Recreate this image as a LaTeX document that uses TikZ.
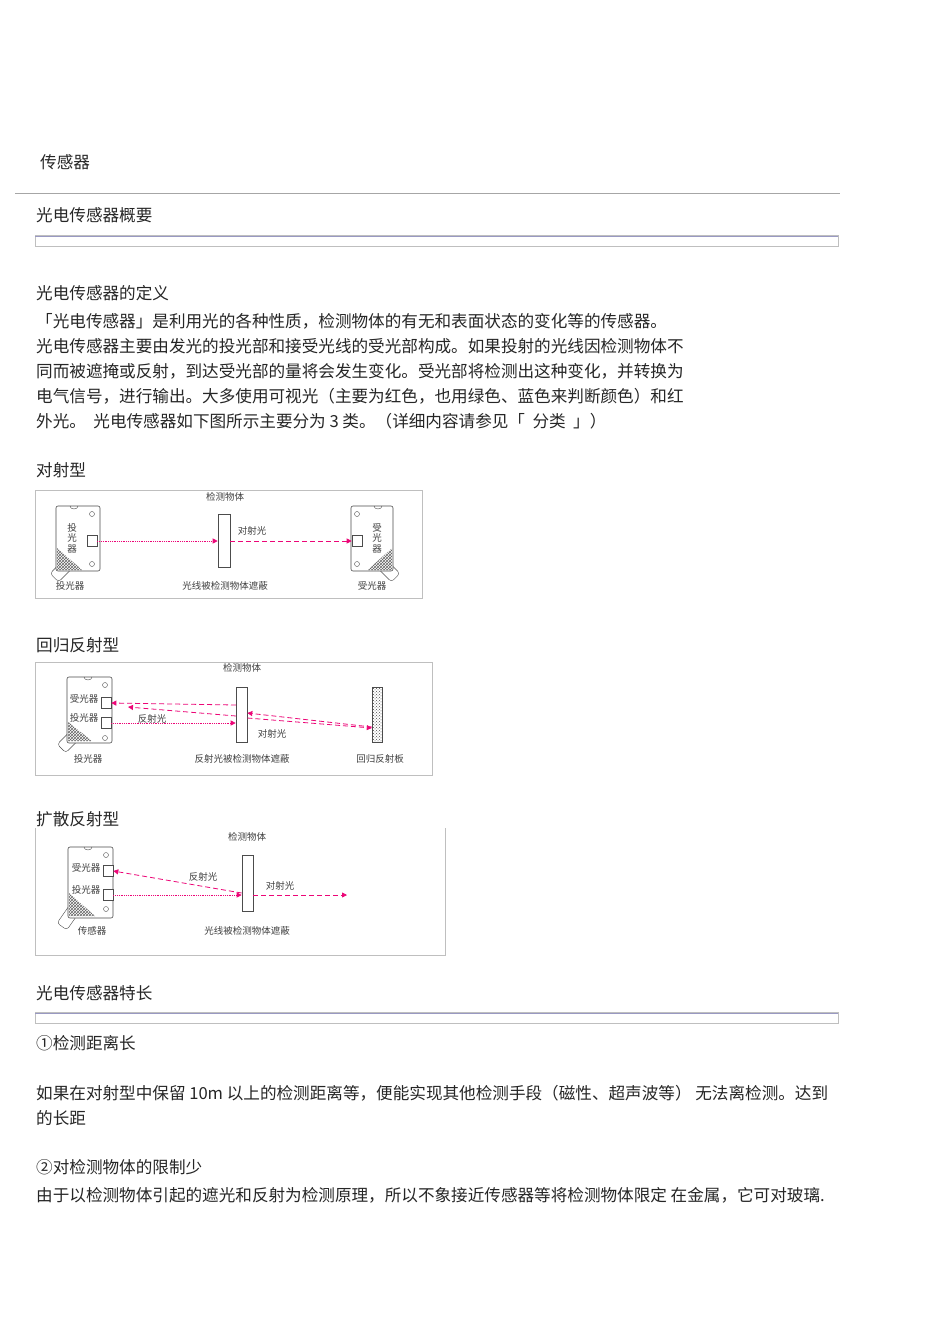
\documentclass[tikz,border=0pt]{standalone}
\usepackage{fontspec}
\setmainfont{Noto Sans CJK SC}
\usetikzlibrary{arrows.meta,patterns}
\begin{document}
\begin{tikzpicture}[x=1pt,y=-1pt,
  txt/.style={anchor=west,inner sep=0,font=\fontsize{16.6}{20}\selectfont,text=black!85},
  sm/.style={inner sep=0,font=\fontsize{9.5}{10.5}\selectfont,text=black!75},
  body/.style={draw=black!70,fill=white,rounded corners=2pt,line width=0.6pt},
  lens/.style={draw=black!70,fill=white,minimum width=10pt,minimum height=11pt,inner sep=0,line width=0.6pt},
  obj/.style={draw=black!70,fill=white,line width=0.6pt},
  frame/.style={draw=black!25,line width=0.8pt},
  beamdot/.style={draw=magenta!80!red,densely dotted,line width=0.8pt,-{Triangle[length=5pt,width=5pt]}},
  beamdash/.style={draw=magenta!80!red,dashed,dash pattern=on 5pt off 3pt,line width=0.8pt,-{Triangle[length=5pt,width=5pt]}}]
\useasboundingbox[fill=white] (0,0) rectangle (950,1344);

% header
\node[txt] (t0) at (40,162) {传感器};
\draw[black!35,line width=0.8pt] (15,193) -- (840,193);
\node[txt] (t1) at (36,215) {光电传感器概要};
\draw[black!25] (35,235) rectangle (838,246);
\draw[blue!40!black!40,line width=1pt] (35,236) -- (838,236);

\node[txt] (t2) at (36,293) {光电传感器的定义};
\node[txt] at (36,321) {「光电传感器」是利用光的各种性质，检测物体的有无和表面状态的变化等的传感器。};
\node[txt] at (36,346) {光电传感器主要由发光的投光部和接受光线的受光部构成。如果投射的光线因检测物体不};
\node[txt] at (36,371) {同而被遮掩或反射，到达受光部的量将会发生变化。受光部将检测出这种变化，并转换为};
\node[txt] at (36,396) {电气信号，进行输出。大多使用可视光（主要为红色，也用绿色、蓝色来判断颜色）和红};
\node[txt] at (36,421) {外光。\ \ 光电传感器如下图所示主要分为 3 类。（详细内容请参见「\ \ 分类\ \ 」）};

% ---------- diagram 1
\node[txt] at (36,470) {对射型};
\draw[frame] (35,490) rectangle (422,598);
\draw[black!70,fill=white,rounded corners=3pt,rotate around={45:(60,572)}] (52,566) rectangle (90,578);
\node[body,minimum width=44pt,minimum height=65pt] (s1) at (78,538.5) {};
\fill[pattern=crosshatch,pattern color=black!60] (57,548) -- (57,570) -- (82,570) -- cycle;
\draw[black!70] (70,506) arc (180:0:4 and 3);
\draw[black!70] (92,514) circle (2.5);
\draw[black!70] (92,564) circle (2.5);
\node[lens] (l1) at (92,541) {};
\node[sm,align=center] at (72,538) {投\\光\\器};
\draw[black!70,fill=white,rounded corners=3pt,rotate around={-45:(390,572)}] (360,566) rectangle (398,578);
\node[body,minimum width=42pt,minimum height=65pt] (s2) at (372,538.5) {};
\fill[pattern=crosshatch,pattern color=black!60] (392,548) -- (392,570) -- (368,570) -- cycle;
\draw[black!70] (374,506) arc (180:0:4 and 3);
\draw[black!70] (357,514) circle (2.5);
\draw[black!70] (357,564) circle (2.5);
\node[lens] (l2) at (357,541) {};
\node[sm,align=center] at (377,538) {受\\光\\器};
\node[obj,minimum width=12pt,minimum height=53pt,inner sep=0] (o1) at (224,541) {};
\draw[beamdot] (l1.east) -- (o1.west);
\draw[beamdash] (o1.east) -- (l2.west);
\node[sm] at (225,497) {检测物体};
\node[sm] at (252,531) {对射光};
\node[sm] at (70,586) {投光器};
\node[sm] at (225,586) {光线被检测物体遮蔽};
\node[sm] at (372,586) {受光器};

% ---------- diagram 2
\node[txt] at (36,645) {回归反射型};
\draw[frame] (35,662) rectangle (432,775);
\draw[black!70,fill=white,rounded corners=3pt,rotate around={45:(70,740)}] (58,734) rectangle (96,746);
\node[body,minimum width=45pt,minimum height=66pt] (s3) at (89.5,710) {};
\fill[pattern=crosshatch,pattern color=black!60] (68,722) -- (68,741) -- (92,741) -- cycle;
\draw[black!70] (84,677) arc (180:0:4 and 3);
\draw[black!70] (105,685) circle (2.5);
\draw[black!70] (105,738) circle (2.5);
\node[lens] (l3) at (106,703) {};
\node[lens] (l4) at (106,723) {};
\node[sm] at (84,699) {受光器};
\node[sm] at (84,718) {投光器};
\node[obj,minimum width=11pt,minimum height=55pt,inner sep=0] (o2) at (241.5,714.5) {};
\node[draw=black!70,pattern=crosshatch dots,pattern color=black!70,minimum width=10pt,minimum height=55pt,inner sep=0] (r2) at (377,714.5) {};
\draw[beamdot] (l4.east) -- (o2.west |- l4);
\coordinate (a2) at (236,705);
\coordinate (b2) at (236,716);
\draw[beamdash] (a2) -- (l3.east);
\draw[beamdash] (b2) -- (128,707);
\draw[beamdash] (o2.east |- 0,718) -- (r2.west |- 0,728);
\draw[beamdash] (r2.west |- 0,727) -- (o2.east |- 0,713);
\node[sm] at (152,719) {反射光};
\node[sm] at (272,734) {对射光};
\node[sm] at (242,668) {检测物体};
\node[sm] at (88,759) {投光器};
\node[sm] at (242,759) {反射光被检测物体遮蔽};
\node[sm] at (380,759) {回归反射板};

% ---------- diagram 3
\node[txt] at (36,819) {扩散反射型};
\draw[frame] (35,828) -- (35,955) -- (445,955) -- (445,828);
\draw[black!70,fill=white,rounded corners=3pt,rotate around={55:(70,915)}] (56,909) rectangle (94,921);
\node[body,minimum width=45pt,minimum height=71pt] (s4) at (90.5,882.5) {};
\fill[pattern=crosshatch,pattern color=black!60] (69,893) -- (69,916) -- (95,916) -- cycle;
\draw[black!70] (84,847) arc (180:0:4 and 3);
\draw[black!70] (106,855) circle (2.5);
\draw[black!70] (106,909) circle (2.5);
\node[lens] (l5) at (108,871) {};
\node[lens] (l6) at (108,895) {};
\node[sm] at (86,868) {受光器};
\node[sm] at (86,890) {投光器};
\node[obj,minimum width=11pt,minimum height=56pt,inner sep=0] (o3) at (247.5,883) {};
\coordinate (e3) at (347,895);
\draw[beamdot] (l6.east) -- (o3.west |- l6);
\draw[beamdash] (o3.west |- 0,893) -- (l5.east);
\draw[beamdash] (o3.east |- l6) -- (e3);
\node[sm] at (247,837) {检测物体};
\node[sm] at (203,877) {反射光};
\node[sm] at (280,886) {对射光};
\node[sm] at (92,931) {传感器};
\node[sm] at (247,931) {光线被检测物体遮蔽};

% ---------- features
\node[txt] at (36,993) {光电传感器特长};
\draw[black!25] (35,1012) rectangle (838,1023);
\draw[blue!40!black!40,line width=1pt] (35,1013) -- (838,1013);
\node[txt] at (36,1043) {①检测距离长};
\node[txt] at (36,1093) {如果在对射型中保留 10m 以上的检测距离等，便能实现其他检测手段（磁性、超声波等）\ 无法离检测。达到};
\node[txt] at (36,1118) {的长距};
\node[txt] at (36,1167) {②对检测物体的限制少};
\node[txt] at (36,1195) {由于以检测物体引起的遮光和反射为检测原理，所以不象接近传感器等将检测物体限定\ 在金属，它可对玻璃.};
\end{tikzpicture}
\end{document}
